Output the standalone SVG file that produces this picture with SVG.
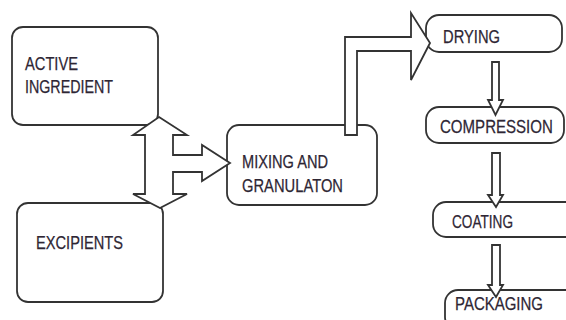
<svg xmlns="http://www.w3.org/2000/svg" width="566" height="320" viewBox="0 0 566 320">
<style>
.box{fill:#fff;stroke:#333;stroke-width:1.8}
.arr{fill:#fff;stroke:#333;stroke-width:1.8;stroke-linejoin:miter}
text{font-family:"Liberation Sans",Arial,sans-serif;font-size:19px;fill:#2e2634;stroke:#2e2634;stroke-width:0.25}
</style>
<rect width="566" height="320" fill="#fff"/>
<g id="active">
<rect class="box" x="12" y="27" width="146" height="98" rx="11"/>
<text x="25" y="70" textLength="53" lengthAdjust="spacingAndGlyphs">ACTIVE</text>
<text x="25" y="93" textLength="88" lengthAdjust="spacingAndGlyphs">INGREDIENT</text>
</g>
<g id="excipients">
<rect class="box" x="17" y="203" width="146" height="99" rx="11"/>
<text x="36" y="249" textLength="87" lengthAdjust="spacingAndGlyphs">EXCIPIENTS</text>
</g>
<g id="mixing">
<rect class="box" x="227" y="125" width="150" height="80" rx="12"/>
<text x="242" y="168" textLength="86" lengthAdjust="spacingAndGlyphs">MIXING AND</text>
<text x="242" y="192" textLength="101" lengthAdjust="spacingAndGlyphs">GRANULATON</text>
</g>
<g id="drying">
<rect class="box" x="426" y="15" width="136" height="37" rx="13"/>
<text x="443" y="43" textLength="57" lengthAdjust="spacingAndGlyphs">DRYING</text>
</g>
<g id="compression">
<rect class="box" x="426" y="107" width="138" height="36" rx="13"/>
<text transform="translate(440,133) scale(0.793,1)" x="0" y="0">COMPRESSION</text>
</g>
<g id="coating">
<rect class="box" x="433" y="202" width="160" height="35" rx="13"/>
<text x="452" y="228" textLength="61" lengthAdjust="spacingAndGlyphs">COATING</text>
</g>
<g id="packaging">
<rect class="box" x="445" y="290" width="160" height="40" rx="13"/>
<text x="455" y="310" textLength="88" lengthAdjust="spacingAndGlyphs">PACKAGING</text>
</g>
<g id="connectors">
<path class="arr" d="M159,117 L187,135 L173,135 L173,155 L202,155 L202,145 L230,163 L202,181 L202,172 L173,172 L173,194 L187,194 L160,208 L133,194 L145,194 L145,135 L133,135 Z"/>
<path class="arr" d="M345,135 L345,37 L411,37 L411,13 L430,43 L411,80 L411,51 L357,51 L357,135 Z"/>
<path class="arr" d="M492,62 L499,62 L499,100 L503,100 L495.5,115 L488,100 L492,100 Z"/>
<path class="arr" d="M492,153 L500,153 L500,195 L503,195 L496,207 L488,195 L492,195 Z"/>
<path class="arr" d="M492,245 L500,245 L500,285 L503,285 L496,297 L488,285 L492,285 Z"/>
</g>
</svg>
